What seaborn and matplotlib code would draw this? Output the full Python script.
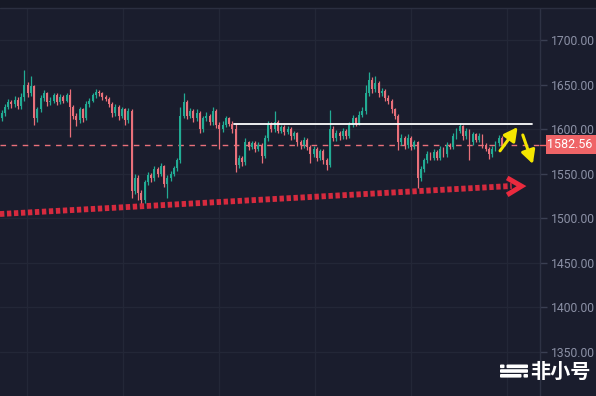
import numpy as np
import pandas as pd
import matplotlib
matplotlib.use("Agg")
import matplotlib.pyplot as plt
import matplotlib.patches as mpatches
import seaborn as sns

# ---------------- data ----------------
first_open = 1612
closes = [1618,1625,1630,1628,1633,1626,1636,1650,1640,1648,
          1612,1622,1635,1640,1630,1632,1638,1630,1636,1632,
          1638,1625,1615,1610,1622,1612,1628,1632,1638,1642,
          1640,1636,1634,1628,1618,1625,1615,1622,1610,1620,
          1530,1545,1528,1520,1540,1548,1545,1555,1550,1558,
          1538,1545,1550,1556,1565,1615,1630,1615,1620,1612,
          1618,1600,1612,1615,1608,1620,1605,1600,1605,1612,
          1606,1600,1560,1568,1563,1585,1580,1584,1578,1582,
          1570,1590,1606,1600,1608,1598,1602,1597,1600,1592,
          1595,1585,1582,1588,1580,1572,1578,1568,1575,1565,
          1560,1600,1590,1596,1592,1598,1592,1605,1612,1606,
          1616,1620,1640,1655,1645,1652,1640,1643,1635,1632,
          1622,1615,1585,1590,1582,1590,1580,1585,1545,1555,
          1565,1572,1568,1574,1568,1578,1572,1582,1580,1592,
          1598,1603,1592,1598,1585,1594,1588,1592,1582,1578,
          1572,1578,1584,1590,1582.56]
highs = [1621,1628,1634,1633,1637,1636,1640,1666,1653,1660,
         1650,1625,1638,1644,1642,1636,1641,1640,1639,1638,
         1641,1645,1627,1618,1625,1624,1631,1635,1641,1645,
         1644,1642,1638,1636,1630,1628,1627,1625,1624,1624,
         1623,1550,1548,1532,1543,1552,1551,1558,1557,1562,
         1560,1548,1553,1559,1568,1625,1641,1633,1624,1622,
         1622,1620,1615,1619,1617,1625,1622,1608,1609,1615,
         1614,1609,1606,1571,1570,1590,1587,1587,1586,1585,
         1584,1593,1609,1608,1620,1610,1605,1604,1603,1602,
         1598,1597,1588,1591,1590,1582,1581,1580,1578,1577,
         1568,1621,1603,1599,1598,1601,1600,1608,1616,1614,
         1620,1625,1650,1664,1658,1660,1654,1646,1645,1638,
         1634,1624,1617,1594,1592,1594,1592,1588,1587,1558,
         1568,1575,1574,1577,1576,1581,1580,1585,1584,1595,
         1601,1607,1605,1601,1600,1597,1596,1595,1594,1584,
         1580,1581,1587,1593,1592]
lows = [1609,1615,1622,1624,1625,1622,1623,1632,1636,1637,
        1604,1608,1619,1632,1626,1627,1629,1627,1628,1629,
        1630,1591,1611,1603,1607,1608,1610,1625,1630,1635,
        1637,1633,1631,1625,1614,1615,1610,1612,1605,1607,
        1522,1527,1520,1511,1517,1537,1541,1542,1546,1547,
        1535,1522,1542,1547,1553,1562,1612,1611,1612,1608,
        1609,1595,1597,1609,1604,1605,1601,1577,1597,1602,
        1603,1596,1552,1556,1559,1560,1576,1577,1574,1575,
        1562,1567,1587,1597,1597,1595,1595,1593,1594,1588,
        1589,1581,1578,1579,1576,1562,1569,1564,1565,1561,
        1554,1557,1586,1587,1588,1589,1589,1590,1602,1603,
        1604,1613,1617,1637,1641,1642,1636,1637,1631,1628,
        1618,1611,1576,1582,1578,1579,1576,1577,1534,1542,
        1552,1562,1565,1565,1565,1565,1569,1569,1577,1577,
        1589,1595,1588,1589,1565,1582,1585,1585,1579,1575,
        1566,1569,1575,1581,1580]
last_price = 1582.56
resistance_level = 1605.6
resistance_span = [71.5, 163.2]
trend_x = [-0.5, 157.0]
trend_y = [1504.5, 1536.0]
chevron_x = [155.6, 160.0, 155.6]
chevron_y = [1545.0, 1535.8, 1526.0]
y_ticks = [1350, 1400, 1450, 1500, 1550, 1600, 1650, 1700]
x_grid = [7.8, 37.4, 66.9, 96.4, 126.0, 155.5]
arrow_up = [(153.4, 1575.5), (158.8, 1602.2)]
arrow_down = [(160.4, 1593.3), (163.5, 1560.7)]

df = pd.DataFrame({"close": closes, "high": highs, "low": lows})
df["open"] = df["close"].shift(1).fillna(first_open)
df["idx"] = np.arange(len(df))
df["up"] = df["close"] >= df["open"]

# ---------------- style ----------------
BG = "#1a1d2d"
GRID = "#232737"
UP = "#22ab94"
DOWN = "#e9707a"
sns.set_style("dark", rc={"axes.facecolor": BG, "figure.facecolor": BG})
plt.rcParams["font.family"] = ["Roboto", "DejaVu Sans"]

W, H = 596, 396
fig = plt.figure(figsize=(W / 100, H / 100), dpi=100)
ax = fig.add_axes([0, 0, 540 / W, 388 / H])
ax.set_facecolor(BG)

# grid
for xv in x_grid:
    ax.axvline(xv, color=GRID, lw=1, zorder=0)
for yv in y_ticks:
    ax.axhline(yv, color=GRID, lw=1, zorder=0)

# candles
for up, color in [(True, UP), (False, DOWN)]:
    sub = df[df["up"] == up]
    ax.vlines(sub["idx"], sub["low"], sub["high"], color=color, lw=0.9, zorder=3)
    bottoms = np.minimum(sub["open"], sub["close"])
    heights = np.maximum(np.abs(sub["close"] - sub["open"]), 0.8)
    ax.bar(sub["idx"], heights, bottom=bottoms, width=0.52, color=color,
           linewidth=0, zorder=3)

# current price dashed line
ax.axhline(last_price, color=DOWN, lw=1, ls=(0, (4, 4)), zorder=2)

# resistance white line
sns.lineplot(x=resistance_span, y=[resistance_level, resistance_level], ax=ax,
             color="white", lw=1.3, zorder=4)

# red dotted trendline
sns.lineplot(x=trend_x, y=trend_y, ax=ax, color="#d62a3e", lw=4.2,
             ls=(0, (0.75, 0.45)), zorder=4)
# chevron at the end of the trendline
ax.plot(chevron_x, chevron_y, color="#ea2a3e", lw=3.6,
        solid_capstyle="butt", solid_joinstyle="miter", zorder=5)

# yellow arrows
for (x0, y0), (x1, y1) in [arrow_up, arrow_down]:
    ax.annotate("", xy=(x1, y1), xytext=(x0, y0),
                arrowprops=dict(arrowstyle="-|>,head_length=0.8,head_width=0.42",
                                color="#f4e600", lw=2.2, shrinkA=0, shrinkB=0),
                zorder=6)

ax.set_xlim(-0.49, 165.7)
ax.set_ylim(1300, 1736)
ax.set_xticks([])
ax.yaxis.tick_right()
ax.set_yticks(y_ticks)
ax.set_yticklabels([f"{v:.2f}" for v in y_ticks])
ax.tick_params(axis="y", colors="#3a3f52", labelcolor="#8b90a5", length=5,
               width=1, labelsize=8.7, pad=3)
for s in ["top", "left", "bottom"]:
    ax.spines[s].set_visible(False)
ax.spines["right"].set_color("#2e3244")
ax.spines["right"].set_linewidth(1)

# last price label box (right scale)
ybox = ax.transData.transform((0, last_price))[1]
fig.patches.append(mpatches.Rectangle((546 / W, (ybox - 9.5) / H), 50 / W, 19 / H,
                                      transform=fig.transFigure, fc="#ef6467",
                                      ec="none", zorder=10))
fig.add_artist(plt.Line2D([540 / W, 546 / W], [ybox / H, ybox / H], color="#ef6467",
                          lw=1, transform=fig.transFigure))
fig.text(570 / W, ybox / H, f"{last_price:.2f}", color="white", fontsize=9.0,
         ha="center", va="center", zorder=11)

# top strip
fig.patches.append(mpatches.Rectangle((0, 388 / H), 1, 8 / H,
                                      transform=fig.transFigure, fc="#161926",
                                      ec="none", zorder=0))
fig.add_artist(plt.Line2D([0, 1], [388 / H, 388 / H], color="#2b2f40", lw=1,
                          transform=fig.transFigure))

# watermark logo
def fx(px):
    return px / W
def fy(py):
    return 1 - py / H
bars = [(500, 364.5, 4.5, 3.6), (506.5, 364.5, 21.5, 3.6), (500, 369.2, 28, 3.6),
        (500, 374, 21.5, 3.6), (523.5, 374, 4.5, 3.6)]
for (x0, y0, w, h) in bars:
    fig.patches.append(mpatches.FancyBboxPatch(
        (fx(x0), fy(y0 + h)), w / W, h / H, boxstyle="round,pad=0,rounding_size=0.002",
        transform=fig.transFigure, fc="white", ec="none", zorder=20))
fig.text(fx(530), fy(371), "非小号", color="white", fontsize=14.5, fontweight="bold",
         family=["Noto Sans CJK SC", "DejaVu Sans"], ha="left", va="center", zorder=20)

fig.savefig("out.png", dpi=100, facecolor=BG)
